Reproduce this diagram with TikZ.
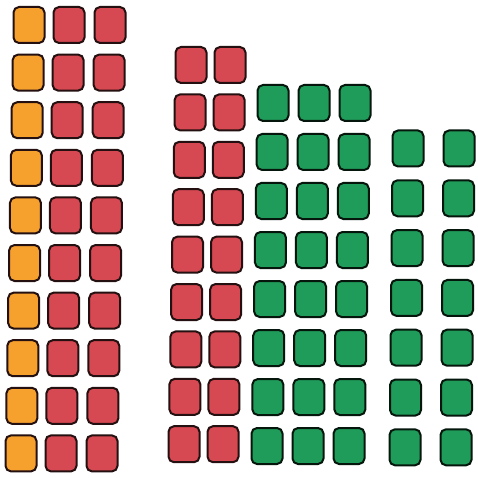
\documentclass[tikz,border=0pt]{standalone}
\usepackage{tikz}
\definecolor{cOrange}{HTML}{F6A12E}
\definecolor{cRed}{HTML}{D64852}
\definecolor{cGreen}{HTML}{209C5A}
\definecolor{cEdge}{HTML}{241010}
\tikzset{
  cell/.style={draw=cEdge, line width=2pt, rounded corners=5.5pt,
    minimum width=31pt, minimum height=36pt, inner sep=0pt},
  orangecell/.style={cell, fill=cOrange},
  redcell/.style={cell, fill=cRed},
  greencell/.style={cell, fill=cGreen, draw=black!85!cGreen}
}
\begin{document}
\begin{tikzpicture}[x=1pt,y=-1pt]
\useasboundingbox[fill=white] (0,0) rectangle (477,478);
% group 1: 10 rows, orange + 2 red
\foreach \i in {0,...,9}{
  \pgfmathsetmacro{\dx}{-8*\i/9}
  \pgfmathsetmacro{\yy}{25+47.6*\i}
  \node[orangecell] (a\i) at (29+\dx,\yy) {};
  \node[redcell] (b\i) at (69+\dx,\yy) {};
  \node[redcell] (c\i) at (110+\dx,\yy) {};
}
% group 2: 9 rows, 2 red
\foreach \i in {0,...,8}{
  \pgfmathsetmacro{\dx}{-7*\i/8}
  \pgfmathsetmacro{\yy}{65+47.4*\i}
  \node[redcell] (d\i) at (191+\dx,\yy) {};
  \node[redcell] (e\i) at (230+\dx,\yy) {};
}
% group 3: 8 rows, 3 green
\foreach \i in {0,...,7}{
  \pgfmathsetmacro{\dx}{-6*\i/7}
  \pgfmathsetmacro{\yy}{103+49*\i}
  \node[greencell] (f\i) at (273+\dx,\yy) {};
  \node[greencell] (g\i) at (314+\dx,\yy) {};
  \node[greencell] (h\i) at (355+\dx,\yy) {};
}
% group 4: 7 rows, 2 green
\foreach \i in {0,...,6}{
  \pgfmathsetmacro{\dx}{-3*\i/6}
  \pgfmathsetmacro{\yy}{148.5+49.8*\i}
  \node[greencell] (p\i) at (408+\dx,\yy) {};
  \node[greencell] (q\i) at (459+\dx,\yy) {};
}
\end{tikzpicture}
\end{document}
